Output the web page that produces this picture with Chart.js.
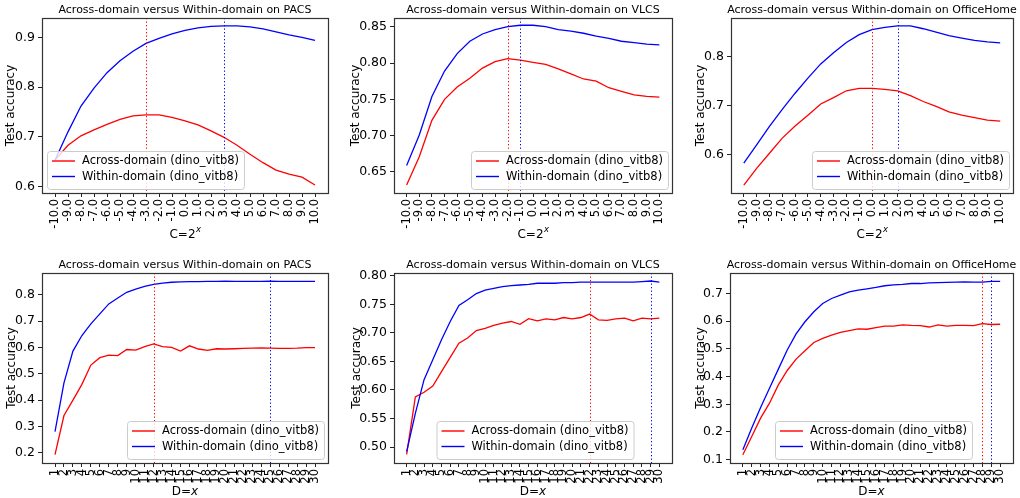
<!DOCTYPE html>
<html><head><meta charset="utf-8">
<script src="https://cdn.jsdelivr.net/npm/chart.js@4.4.0/dist/chart.umd.min.js"></script>
<style>
html,body{margin:0;padding:0;background:#fff;}
#wrap{position:relative;width:1020px;height:498px;overflow:hidden;background:#fff;}
canvas{position:absolute;}
</style></head><body><div id="wrap">
<canvas id="c1" width="340" height="249" style="left:0;top:0"></canvas>
<canvas id="c2" width="340" height="249" style="left:340px;top:0"></canvas>
<canvas id="c3" width="340" height="249" style="left:680px;top:0"></canvas>
<canvas id="c4" width="340" height="249" style="left:0;top:249px"></canvas>
<canvas id="c5" width="340" height="249" style="left:340px;top:249px"></canvas>
<canvas id="c6" width="340" height="249" style="left:680px;top:249px"></canvas>
</div>
<script>
// ---------- data ----------
const cExponents = [-10,-9,-8,-7,-6,-5,-4,-3,-2,-1,0,1,2,3,4,5,6,7,8,9,10];
const dValues = [1,2,3,4,5,6,7,8,9,10,11,12,13,14,15,16,17,18,19,20,21,22,23,24,25,26,27,28,29,30];

const pacsC_across = [0.653,0.683,0.702,0.714,0.725,0.735,0.742,0.744,0.744,0.739,0.732,0.724,0.712,0.699,0.683,0.665,0.648,0.633,0.625,0.619,0.603];
const pacsC_within = [0.653,0.710,0.762,0.798,0.829,0.853,0.872,0.888,0.898,0.907,0.914,0.919,0.922,0.923,0.923,0.921,0.917,0.911,0.905,0.900,0.894];
const vlcsC_across = [0.632,0.671,0.721,0.750,0.767,0.779,0.793,0.802,0.806,0.804,0.801,0.798,0.792,0.785,0.778,0.775,0.766,0.761,0.756,0.754,0.753];
const vlcsC_within = [0.659,0.701,0.754,0.789,0.813,0.830,0.840,0.846,0.850,0.852,0.852,0.850,0.846,0.844,0.841,0.837,0.834,0.830,0.828,0.826,0.825];
const officeC_across = [0.537,0.571,0.602,0.633,0.658,0.680,0.703,0.716,0.730,0.735,0.735,0.733,0.730,0.720,0.708,0.698,0.687,0.680,0.675,0.670,0.668];
const officeC_within = [0.582,0.619,0.657,0.692,0.725,0.756,0.785,0.808,0.829,0.845,0.855,0.860,0.863,0.863,0.857,0.850,0.843,0.838,0.833,0.830,0.828];

const pacsD_across = [0.194,0.342,0.400,0.460,0.533,0.561,0.571,0.569,0.592,0.590,0.603,0.613,0.603,0.600,0.586,0.606,0.594,0.589,0.595,0.594,0.595,0.596,0.597,0.598,0.597,0.596,0.596,0.597,0.599,0.599];
const pacsD_within = [0.281,0.466,0.586,0.645,0.689,0.727,0.765,0.787,0.809,0.821,0.831,0.839,0.844,0.847,0.848,0.849,0.849,0.850,0.850,0.851,0.850,0.850,0.850,0.850,0.851,0.850,0.850,0.850,0.850,0.850];
const vlcsD_across = [0.487,0.588,0.596,0.607,0.632,0.657,0.682,0.691,0.704,0.708,0.713,0.717,0.720,0.715,0.725,0.721,0.7245,0.723,0.727,0.7245,0.727,0.733,0.723,0.722,0.7245,0.726,0.721,0.726,0.7245,0.726];
const vlcsD_within = [0.492,0.559,0.618,0.653,0.688,0.720,0.748,0.758,0.769,0.775,0.778,0.781,0.783,0.784,0.785,0.787,0.787,0.787,0.788,0.788,0.789,0.789,0.789,0.789,0.789,0.789,0.789,0.790,0.791,0.789];
const officeD_across = [0.118,0.184,0.250,0.304,0.370,0.422,0.463,0.493,0.523,0.538,0.550,0.560,0.566,0.572,0.571,0.577,0.582,0.582,0.587,0.585,0.584,0.579,0.587,0.582,0.585,0.585,0.584,0.591,0.588,0.589];
const officeD_within = [0.136,0.214,0.288,0.358,0.427,0.496,0.554,0.598,0.634,0.664,0.682,0.694,0.706,0.712,0.717,0.722,0.728,0.731,0.733,0.736,0.736,0.738,0.739,0.740,0.741,0.742,0.741,0.741,0.744,0.744];

// best positions (vertical dotted lines)
const bestAcross = [-3, -2, 0, 12, 22, 28];
const bestWithin = [3, -1, 2, 25, 29, 29];

// y tick labels
const yTicksPacsC = [0.6,0.7,0.8,0.9];
const yTicksVlcsC = [0.65,0.70,0.75,0.80,0.85];
const yTicksOfficeC = [0.6,0.7,0.8];
const yTicksPacsD = [0.2,0.3,0.4,0.5,0.6,0.7,0.8];
const yTicksVlcsD = [0.50,0.55,0.60,0.65,0.70,0.75,0.80];
const yTicksOfficeD = [0.1,0.2,0.3,0.4,0.5,0.6,0.7];

const datasetNames = ['PACS','VLCS','OfficeHome','PACS','VLCS','OfficeHome'];
const seriesLabels = ['Across-domain (dino_vitb8)','Within-domain (dino_vitb8)'];

// ---------- drawing ----------
const FONT = "'DejaVu Sans', sans-serif";
const deco = {
  id: 'deco',
  afterDatasetsDraw(chart) {
    const o = chart.options.plugins.deco;
    const ctx = chart.ctx, a = chart.chartArea, xs = chart.scales.x;
    ctx.save();
    // best lines
    ctx.lineWidth = 1;
    ctx.setLineDash([1.3, 2.2]);
    [[o.bestA, '#ff0000'], [o.bestW, '#0000ff']].forEach(([v, c]) => {
      const px = Math.round(xs.getPixelForValue(v)) + 0.5;
      ctx.strokeStyle = c;
      ctx.beginPath(); ctx.moveTo(px, a.top); ctx.lineTo(px, a.bottom); ctx.stroke();
    });
    ctx.setLineDash([]);
    // legend
    ctx.font = '11.5px ' + FONT;
    const tw = Math.max(...seriesLabels.map(s => ctx.measureText(s).width));
    const bw = tw + 40, bh = 38;
    let bx;
    if (o.legend === 'll') bx = a.left + 5;
    else if (o.legend === 'lr') bx = a.right - 4 - bw;
    else bx = (a.left + a.right) / 2 - bw / 2 + 2;
    const by = a.bottom - 4 - bh;
    ctx.fillStyle = 'rgba(255,255,255,0.8)';
    ctx.strokeStyle = '#cccccc';
    ctx.lineWidth = 1;
    ctx.beginPath(); ctx.roundRect(bx + 0.5, by + 0.5, bw, bh, 3); ctx.fill(); ctx.stroke();
    const cols = ['#ff0000', '#0000ff'];
    seriesLabels.forEach((s, i) => {
      const yy = by + 10 + i * 15.5;
      ctx.strokeStyle = cols[i]; ctx.lineWidth = 1.4;
      ctx.beginPath(); ctx.moveTo(bx + 5, yy); ctx.lineTo(bx + 28, yy); ctx.stroke();
      ctx.fillStyle = '#000'; ctx.textBaseline = 'middle'; ctx.textAlign = 'left';
      ctx.fillText(s, bx + 35, yy + 0.5);
    });
    // frame
    ctx.strokeStyle = '#333'; ctx.lineWidth = 1.2;
    ctx.strokeRect(Math.round(a.left) + 0.5, Math.round(a.top) + 0.5, Math.round(a.right - a.left), Math.round(a.bottom - a.top));
    // title
    const cx = (a.left + a.right) / 2;
    ctx.fillStyle = '#000'; ctx.textAlign = 'center'; ctx.textBaseline = 'middle';
    ctx.font = '11px ' + FONT;
    ctx.fillText('Across-domain versus Within-domain on ' + o.name, cx, a.top - 8);
    // y title
    ctx.save();
    ctx.font = '12px ' + FONT;
    ctx.translate(o.yTitleX, (a.top + a.bottom) / 2);
    ctx.rotate(-Math.PI / 2);
    ctx.fillText('Test accuracy', 0, 0);
    ctx.restore();
    // x title
    ctx.font = '12px ' + FONT;
    ctx.textBaseline = 'alphabetic';
    if (o.kind === 'C') {
      const base = 'C=2';
      const w1 = ctx.measureText(base).width;
      ctx.font = 'italic 8.5px ' + FONT;
      const w2 = ctx.measureText('x').width;
      const x0 = cx - (w1 + w2) / 2;
      ctx.textAlign = 'left';
      ctx.font = '12px ' + FONT;
      ctx.fillText(base, x0, o.xTitleY + 4.5);
      ctx.font = 'italic 8.5px ' + FONT;
      ctx.fillText('x', x0 + w1 + 0.5, o.xTitleY - 1);
    } else {
      const base = 'D=';
      const w1 = ctx.measureText(base).width;
      ctx.font = 'italic 12px ' + FONT;
      const w2 = ctx.measureText('x').width;
      const x0 = cx - (w1 + w2) / 2;
      ctx.textAlign = 'left';
      ctx.font = '12px ' + FONT;
      ctx.fillText(base, x0, o.xTitleY + 4.5);
      ctx.font = 'italic 12px ' + FONT;
      ctx.fillText('x', x0 + w1, o.xTitleY + 4.5);
    }
    ctx.restore();
  }
};

function makeChart(id, cfg) {
  const xVals = cfg.kind === 'C' ? cExponents : dValues;
  const toPts = arr => arr.map((v, i) => ({ x: xVals[i], y: v }));
  const span = xVals[xVals.length - 1] - xVals[0];
  const dec = cfg.dec;
  return new Chart(document.getElementById(id), {
    type: 'line',
    data: {
      datasets: [
        { label: seriesLabels[0], data: toPts(cfg.across), borderColor: '#ff0000', borderWidth: 1.3, pointRadius: 0, tension: 0, order: 1 },
        { label: seriesLabels[1], data: toPts(cfg.within), borderColor: '#0000ff', borderWidth: 1.3, pointRadius: 0, tension: 0, order: 0 }
      ]
    },
    options: {
      responsive: false, animation: false, devicePixelRatio: 1,
      layout: { padding: { top: cfg.top, right: cfg.right, left: 0, bottom: 0 } },
      plugins: {
        legend: { display: false }, tooltip: { enabled: false }, title: { display: false },
        deco: { bestA: cfg.bestA, bestW: cfg.bestW, legend: cfg.legend, name: cfg.name, kind: cfg.kind, yTitleX: cfg.yTitleX, xTitleY: cfg.xTitleY }
      },
      scales: {
        x: {
          type: 'linear',
          min: xVals[0] - span * 0.05, max: xVals[xVals.length - 1] + span * 0.05,
          afterBuildTicks: s => { s.ticks = xVals.map(v => ({ value: v })); },
          afterFit: s => { s.height = cfg.xH; },
          grid: { drawOnChartArea: false, drawTicks: true, tickLength: 4, color: '#222', tickWidth: 1 },
          border: { display: false },
          ticks: {
            autoSkip: false, maxRotation: 90, minRotation: 90, padding: 2, color: '#000',
            font: { family: FONT, size: 11.5 },
            callback: v => cfg.kind === 'C' ? v.toFixed(1) : String(v)
          }
        },
        y: {
          min: cfg.ymin, max: cfg.ymax,
          afterBuildTicks: s => { s.ticks = cfg.yTicks.map(v => ({ value: v })); },
          afterFit: s => { s.width = cfg.yW; },
          grid: { drawOnChartArea: false, drawTicks: true, tickLength: 4, color: '#222', tickWidth: 1 },
          border: { display: false },
          ticks: { padding: 3, color: '#000', font: { family: FONT, size: 12.5 }, callback: v => v.toFixed(dec) }
        }
      }
    },
    plugins: [deco]
  });
}

makeChart('c1', { kind: 'C', across: pacsC_across, within: pacsC_within, bestA: bestAcross[0], bestW: bestWithin[0], name: datasetNames[0], legend: 'll', yTicks: yTicksPacsC, dec: 1, ymin: 0.587, ymax: 0.939, top: 18, right: 12, yW: 42, xH: 56, yTitleX: 11, xTitleY: 233 });
makeChart('c2', { kind: 'C', across: vlcsC_across, within: vlcsC_within, bestA: bestAcross[1], bestW: bestWithin[1], name: datasetNames[1], legend: 'lr', yTicks: yTicksVlcsC, dec: 2, ymin: 0.621, ymax: 0.862, top: 18, right: 8, yW: 54, xH: 56, yTitleX: 16, xTitleY: 233 });
makeChart('c3', { kind: 'C', across: officeC_across, within: officeC_within, bestA: bestAcross[2], bestW: bestWithin[2], name: datasetNames[2], legend: 'lr', yTicks: yTicksOfficeC, dec: 1, ymin: 0.5207, ymax: 0.879, top: 18, right: 7, yW: 51, xH: 56, yTitleX: 21, xTitleY: 233 });
makeChart('c4', { kind: 'D', across: pacsD_across, within: pacsD_within, bestA: bestAcross[3], bestW: bestWithin[3], name: datasetNames[3], legend: 'lr', yTicks: yTicksPacsD, dec: 1, ymin: 0.162, ymax: 0.882, top: 24, right: 12, yW: 42, xH: 35, yTitleX: 12, xTitleY: 241 });
makeChart('c5', { kind: 'D', across: vlcsD_across, within: vlcsD_within, bestA: bestAcross[4], bestW: bestWithin[4], name: datasetNames[4], legend: 'lc', yTicks: yTicksVlcsD, dec: 2, ymin: 0.472, ymax: 0.805, top: 24, right: 8, yW: 54, xH: 35, yTitleX: 17, xTitleY: 241 });
makeChart('c6', { kind: 'D', across: officeD_across, within: officeD_within, bestA: bestAcross[5], bestW: bestWithin[5], name: datasetNames[5], legend: 'lc', yTicks: yTicksOfficeD, dec: 1, ymin: 0.088, ymax: 0.774, top: 24, right: 7, yW: 50, xH: 35, yTitleX: 21, xTitleY: 241 });
</script>
</body></html>
